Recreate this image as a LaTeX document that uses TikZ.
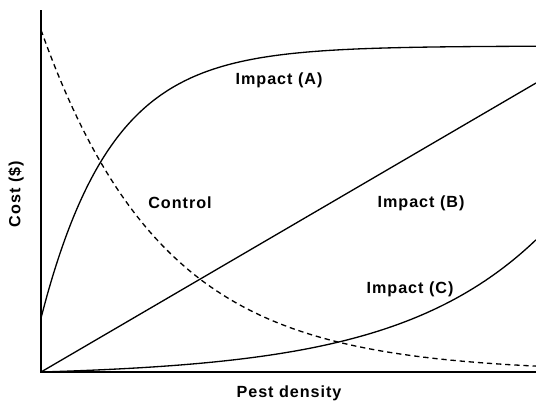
\documentclass[tikz,border=0pt]{standalone}
\usepackage{fontspec}
\setmainfont{Liberation Sans}
\usetikzlibrary{positioning}

\begin{document}
\begin{tikzpicture}[x=0.02cm,y=-0.02cm,
axis/.style={line width=1.2pt},
curve/.style={line width=0.75pt,smooth,samples=80},
label/.style={font=\bfseries\fontsize{9.2}{11}\selectfont\addfontfeature{LetterSpace=6}}]
\useasboundingbox (0,0) rectangle (536,403);

% axes
\coordinate (top) at (41,10);
\coordinate (origin) at (41,372);
\coordinate (right) at (536,372);
\draw[axis] (top) -- (origin) -- (right);

% cost curves
\coordinate (bend) at (536,83);
\draw[curve,domain=41:536] plot (\x,{318-272*(1-exp(-0.0143*(\x-41)))});
\draw[line width=0.75pt] (origin) -- (bend);
\draw[curve,domain=41:536] plot (\x,{372-4.26*(exp(0.007*(\x-41))-1)});
\draw[curve,dash pattern=on 3pt off 2.2pt,domain=41:536] plot (\x,{372-342*exp(-0.0082*(\x-41))});

% labels
\node[label] (impa) at (279,80) {Impact (A)};
\node[label] (ctrl) at (180,203) {Control};
\node[label] (impb) at (421,203) {Impact (B)};
\node[label] (impc) at (410,289) {Impact (C)};
\node[label,rotate=90] (ylab) at (16,194) {Cost (\$)};
\node[label] (xlab) at (289,393) {Pest density};
\end{tikzpicture}
\end{document}
